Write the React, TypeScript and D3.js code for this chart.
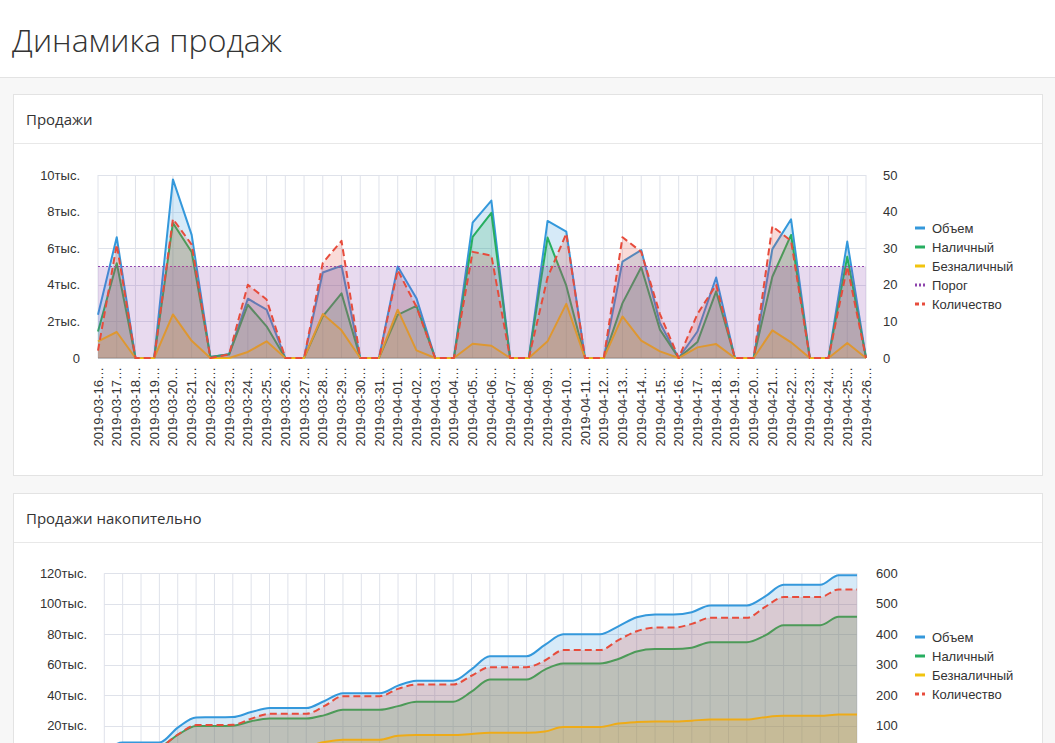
import React from 'react';
import * as d3 from 'd3';

const dates = [
  '2019-03-16', '2019-03-17', '2019-03-18', '2019-03-19', '2019-03-20', '2019-03-21', '2019-03-22',
  '2019-03-23', '2019-03-24', '2019-03-25', '2019-03-26', '2019-03-27', '2019-03-28', '2019-03-29',
  '2019-03-30', '2019-03-31', '2019-04-01', '2019-04-02', '2019-04-03', '2019-04-04', '2019-04-05',
  '2019-04-06', '2019-04-07', '2019-04-08', '2019-04-09', '2019-04-10', '2019-04-11', '2019-04-12',
  '2019-04-13', '2019-04-14', '2019-04-15', '2019-04-16', '2019-04-17', '2019-04-18', '2019-04-19',
  '2019-04-20', '2019-04-21', '2019-04-22', '2019-04-23', '2019-04-24', '2019-04-25', '2019-04-26',
];

// Daily sales
const volume = [2360, 6600, 0, 0, 9760, 6730, 50, 200, 3240, 2640, 0, 0, 4670, 5040, 0, 0, 5000, 3270, 0, 0, 7400, 8600, 0, 0, 7490, 6910, 0, 0, 5270, 5900, 1910, 0, 1450, 4400, 0, 0, 5950, 7580, 0, 0, 6360, 0];
const cash = [1450, 5180, 0, 0, 7380, 5790, 50, 200, 2910, 1730, 0, 0, 2270, 3530, 0, 0, 2360, 2850, 0, 0, 6620, 7930, 0, 0, 6580, 3950, 0, 0, 3000, 4955, 1550, 0, 870, 3640, 0, 0, 4440, 6725, 0, 0, 5540, 0];
const cashless = [910, 1420, 0, 0, 2380, 940, 0, 0, 330, 910, 0, 0, 2400, 1510, 0, 0, 2640, 420, 0, 0, 780, 670, 0, 0, 910, 2960, 0, 0, 2270, 945, 360, 0, 580, 760, 0, 0, 1510, 855, 0, 0, 820, 0];
const count = [2, 31, 0, 0, 38, 31, 0, 1, 20, 16, 0, 0, 26, 32, 0, 0, 24, 14, 0, 0, 29, 28, 0, 0, 22, 34, 0, 0, 33, 29, 12, 0, 12, 20, 0, 0, 36, 32, 0, 0, 25, 0];
const thresholdValue = 5000;

// Cumulative sales
const volumeCum = [2360, 8960, 8960, 8960, 18720, 25450, 25500, 25700, 28940, 31580, 31580, 31580, 36250, 41290, 41290, 41290, 46290, 49560, 49560, 49560, 56960, 65560, 65560, 65560, 73050, 79960, 79960, 79960, 85230, 91130, 93040, 93040, 94490, 98890, 98890, 98890, 104840, 112420, 112420, 112420, 118780, 118780];
const cashCum = [1450, 6630, 6630, 6630, 14010, 19800, 19850, 20050, 22960, 24690, 24690, 24690, 26960, 30490, 30490, 30490, 32850, 35700, 35700, 35700, 42320, 50250, 50250, 50250, 56830, 60780, 60780, 60780, 63780, 68735, 70285, 70285, 71155, 74795, 74795, 74795, 79235, 85960, 85960, 85960, 91500, 91500];
const cashlessCum = [910, 2330, 2330, 2330, 4710, 5650, 5650, 5650, 5980, 6890, 6890, 6890, 9290, 10800, 10800, 10800, 13440, 13860, 13860, 13860, 14640, 15310, 15310, 15310, 16220, 19180, 19180, 19180, 21450, 22395, 22755, 22755, 23335, 24095, 24095, 24095, 25605, 26460, 26460, 26460, 27280, 27280];
const countCum = [2, 33, 33, 33, 71, 102, 102, 103, 123, 139, 139, 139, 165, 197, 197, 197, 221, 235, 235, 235, 264, 292, 292, 292, 314, 348, 348, 348, 381, 410, 422, 422, 434, 454, 454, 454, 490, 522, 522, 522, 547, 547];

const leftTicksTop = [0, 2000, 4000, 6000, 8000, 10000];
const rightTicksTop = [0, 10, 20, 30, 40, 50];
// the 0 tick of the cumulative chart lies below the visible window
const leftTicksBottom = [20000, 40000, 60000, 80000, 100000, 120000];
const rightTicksBottom = [100, 200, 300, 400, 500, 600];

const BLUE = '#3498db';
const GREEN = '#27ae60';
const YELLOW = '#f1c40f';
const PURPLE = '#8e44ad';
const RED = '#e74c3c';

const FONT = '"Liberation Sans", Arial, sans-serif';
const GRID = '#dfe2ea';

const fmtK = (v: number) => (v === 0 ? '0' : `${v / 1000}тыс.`);

type Series = {
  name: string;
  values: number[];
  color: string;
  axis: 'left' | 'right';
  dash?: string;
  width?: number;
  area?: boolean;
};

type ChartProps = {
  x0: number;
  x1: number;
  yBottom: number;
  yTop: number;
  leftMax: number;
  rightMax: number;
  leftTicks: number[];
  rightTicks: number[];
  leftLabelX: number;
  rightLabelX: number;
  series: Series[];
  smooth: boolean;
  legend: { name: string; color: string; dash?: string }[];
  legendY: number;
  showXLabels: boolean;
};

function Chart(p: ChartProps) {
  const x = d3.scalePoint<string>().domain(dates).range([p.x0, p.x1]);
  const yL = d3.scaleLinear().domain([0, p.leftMax]).range([p.yBottom, p.yTop]);
  const yR = d3.scaleLinear().domain([0, p.rightMax]).range([p.yBottom, p.yTop]);
  const curve = p.smooth ? d3.curveMonotoneX : d3.curveLinear;

  return (
    <g>
      {dates.map((d) => (
        <line key={'v' + d} x1={x(d)} x2={x(d)} y1={p.yTop} y2={p.yBottom} stroke={GRID} strokeWidth={1} />
      ))}
      {p.leftTicks.map((t) => (
        <line key={'h' + t} x1={p.x0} x2={p.x1} y1={Math.round(yL(t)) + 0.5} y2={Math.round(yL(t)) + 0.5} stroke={GRID} strokeWidth={1} />
      ))}
      <line x1={p.x0} x2={p.x1} y1={p.yBottom} y2={p.yBottom} stroke="#999" strokeWidth={1} />
      {p.series.map((s) => {
        const y = s.axis === 'left' ? yL : yR;
        const area = d3
          .area<number>()
          .x((_, i) => x(dates[i]) as number)
          .y0(p.yBottom)
          .y1((v) => y(v))
          .curve(curve);
        const line = d3
          .line<number>()
          .x((_, i) => x(dates[i]) as number)
          .y((v) => y(v))
          .curve(curve);
        return (
          <g key={s.name}>
            {s.area !== false && <path d={area(s.values) || ''} fill={s.color} fillOpacity={0.2} />}
            <path
              d={line(s.values) || ''}
              fill="none"
              stroke={s.color}
              strokeWidth={s.width ?? 2}
              strokeDasharray={s.dash}
              strokeLinejoin="round"
            />
          </g>
        );
      })}
      {p.leftTicks.map((t) => (
        <text key={'l' + t} x={p.leftLabelX} y={yL(t)} dy="0.35em" textAnchor="end" fontSize={13} fill="#333" fontFamily={FONT}>
          {fmtK(t)}
        </text>
      ))}
      {p.rightTicks.map((t) => (
        <text key={'r' + t} x={p.rightLabelX} y={yR(t)} dy="0.35em" textAnchor="start" fontSize={13} fill="#333" fontFamily={FONT}>
          {t}
        </text>
      ))}
      {p.showXLabels &&
        dates.map((d) => (
          <text
            key={'x' + d}
            transform={`translate(${x(d)},${p.yBottom + 9}) rotate(-90)`}
            dy="0.35em"
            textAnchor="end"
            fontSize={13}
            fill="#333"
            fontFamily={FONT}
          >
            {d + '…'}
          </text>
        ))}
      {p.legend.map((l, i) => {
        const ly = p.legendY + i * 19;
        return (
          <g key={'lg' + l.name}>
            <line x1={915} x2={925} y1={ly} y2={ly} stroke={l.color} strokeWidth={3} strokeDasharray={l.dash} />
            <text x={932} y={ly} dy="0.35em" fontSize={13} fill="#333" fontFamily={FONT}>
              {l.name}
            </text>
          </g>
        );
      })}
    </g>
  );
}

export default function App() {
  const thresholdArr = dates.map(() => thresholdValue);
  const topSeries: Series[] = [
    { name: 'Объем', values: volume, color: BLUE, axis: 'left' },
    { name: 'Наличный', values: cash, color: GREEN, axis: 'left' },
    { name: 'Безналичный', values: cashless, color: YELLOW, axis: 'left' },
    { name: 'Порог', values: thresholdArr, color: PURPLE, axis: 'left', dash: '2,2', width: 1 },
    { name: 'Количество', values: count, color: RED, axis: 'right', dash: '7,4' },
  ];
  const bottomSeries: Series[] = [
    { name: 'Объем', values: volumeCum, color: BLUE, axis: 'left' },
    { name: 'Наличный', values: cashCum, color: GREEN, axis: 'left' },
    { name: 'Безналичный', values: cashlessCum, color: YELLOW, axis: 'left' },
    { name: 'Количество', values: countCum, color: RED, axis: 'right', dash: '7,4' },
  ];
  const topLegend = [
    { name: 'Объем', color: BLUE },
    { name: 'Наличный', color: GREEN },
    { name: 'Безналичный', color: YELLOW },
    { name: 'Порог', color: PURPLE, dash: '2,2' },
    { name: 'Количество', color: RED, dash: '4,3' },
  ];
  const bottomLegend = [
    { name: 'Объем', color: BLUE },
    { name: 'Наличный', color: GREEN },
    { name: 'Безналичный', color: YELLOW },
    { name: 'Количество', color: RED, dash: '4,3' },
  ];

  return (
    <div style={{ position: 'absolute', left: 0, top: 0, width: 1055, height: 743, overflow: 'hidden' }}>
      <svg width={1055} height={743} style={{ display: 'block' }}>
        <rect x={0} y={0} width={1055} height={743} fill="#f7f7f7" />
        <rect x={0} y={0} width={1055} height={77} fill="#fff" />
        <line x1={0} x2={1055} y1={77.5} y2={77.5} stroke="#e3e3e3" />
        <text x={12} y={52} fontSize={32} fontWeight={300} fill="#333" fontFamily='"Open Sans", "Noto Sans", sans-serif'>
          Динамика продаж
        </text>

        <rect x={13.5} y={94.5} width={1029} height={381} fill="#fff" stroke="#e3e3e3" />
        <line x1={14} x2={1042} y1={143.5} y2={143.5} stroke="#e8e8e8" />
        <text x={26} y={125} fontSize={15} fill="#333" fontFamily='"Open Sans", "Noto Sans", sans-serif'>
          Продажи
        </text>
        <Chart
          x0={98}
          x1={866}
          yBottom={358}
          yTop={175}
          leftMax={10000}
          rightMax={50}
          leftTicks={leftTicksTop}
          rightTicks={rightTicksTop}
          leftLabelX={80}
          rightLabelX={883}
          series={topSeries}
          smooth={false}
          legend={topLegend}
          legendY={228}
          showXLabels={true}
        />

        <rect x={13.5} y={493.5} width={1029} height={400} fill="#fff" stroke="#e3e3e3" />
        <line x1={14} x2={1042} y1={542.5} y2={542.5} stroke="#e8e8e8" />
        <text x={26} y={524} fontSize={15} fill="#333" fontFamily='"Open Sans", "Noto Sans", sans-serif'>
          Продажи накопительно
        </text>
        <Chart
          x0={104.3}
          x1={857}
          yBottom={756.2}
          yTop={573.3}
          leftMax={120000}
          rightMax={600}
          leftTicks={leftTicksBottom}
          rightTicks={rightTicksBottom}
          leftLabelX={87}
          rightLabelX={876}
          series={bottomSeries}
          smooth={true}
          legend={bottomLegend}
          legendY={637}
          showXLabels={false}
        />
      </svg>
    </div>
  );
}
